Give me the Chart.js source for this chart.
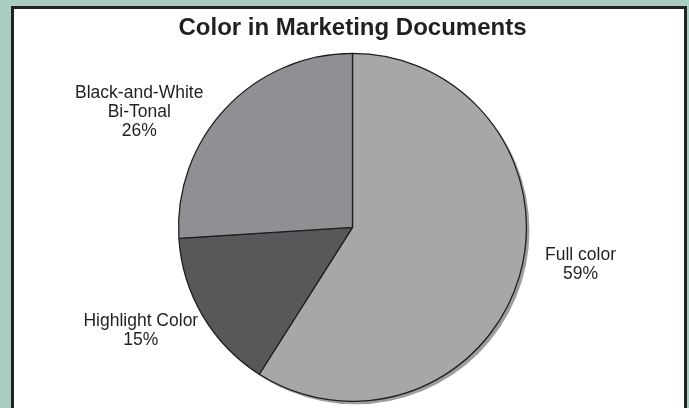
<!DOCTYPE html>
<html>
<head>
<meta charset="utf-8">
<script src="https://cdn.jsdelivr.net/npm/chart.js@4.4.1/dist/chart.umd.min.js"></script>
<style>
  html, body { margin: 0; padding: 0; }
  body { width: 689px; height: 408px; background: #aacdc3; position: relative; overflow: hidden; }
  #panel {
    position: absolute; left: 11px; top: 6px;
    width: 670px; height: 420px;
    background: #ffffff; border: 3px solid #222222;
  }
  #wrap { position: absolute; left: 0; top: 0; width: 689px; height: 408px; }
</style>
</head>
<body>
<div id="panel"></div>
<div id="wrap"><canvas id="pieChart" width="689" height="408"></canvas></div>
<script>
// --- Datos del gráfico ---
const categories = ['Full color', 'Highlight Color', 'Black-and-White Bi-Tonal'];
const labelLines = [['Full color', '59%'], ['Highlight Color', '15%'], ['Black-and-White', 'Bi-Tonal', '26%']];
const shares = [59, 15, 26];
const sliceColors = ['#a7a7aa', '#58585b', '#909094'];

// posición de cada etiqueta, en radios desde el centro del pastel
const labelAnchors = [[1.311, 0.217], [-1.217, 0.594], [-1.226, -0.663]];

const shadowPlugin = {
    id: 'pieShadow',
    beforeDatasetsDraw(chart) {
        const arc = chart.getDatasetMeta(0).data[0];
        if (!arc) return;
        const ctx = chart.ctx;
        ctx.save();
        ctx.fillStyle = '#9d9d9f';
        ctx.beginPath();
        ctx.arc(arc.x + 3, arc.y + 3, arc.outerRadius, 0, Math.PI * 2);
        ctx.fill();
        ctx.restore();
    }
};

const sliceLabels = {
    id: 'sliceLabels',
    afterDatasetsDraw(chart) {
        const meta = chart.getDatasetMeta(0);
        const ctx = chart.ctx;
        ctx.save();
        ctx.font = '17.5px "Liberation Sans", Arial, sans-serif';
        ctx.fillStyle = '#231f20';
        ctx.textAlign = 'center';
        ctx.textBaseline = 'middle';
        const lh = 19;
        meta.data.forEach((arc, i) => {
            const r = arc.outerRadius;
            const cx = arc.x + labelAnchors[i][0] * r;
            const cy = arc.y + labelAnchors[i][1] * r;
            const lines = labelLines[i];
            const startY = cy - (lines.length - 1) * lh / 2;
            lines.forEach((t, k) => ctx.fillText(t, cx, startY + k * lh));
        });
        ctx.restore();
    }
};

const ctx = document.getElementById('pieChart').getContext('2d');
new Chart(ctx, {
    type: 'pie',
    data: {
        labels: categories,
        datasets: [{
            data: shares,
            backgroundColor: sliceColors,
            borderColor: '#1f1f1f',
            borderWidth: 1.3,
            hoverOffset: 0
        }]
    },
    options: {
        responsive: false,
        animation: false,
        events: [],
        layout: { padding: { left: 177.5, right: 161.5, top: 0, bottom: 6 } },
        plugins: {
            legend: { display: false },
            tooltip: { enabled: false },
            title: {
                display: true,
                text: 'Color in Marketing Documents',
                color: '#231f20',
                font: { family: '"Liberation Sans", Arial, sans-serif', size: 24, weight: 'bold', lineHeight: 1.2 },
                padding: { top: 14, bottom: 10 }
            }
        }
    },
    plugins: [shadowPlugin, sliceLabels]
});
</script>
</body>
</html>
